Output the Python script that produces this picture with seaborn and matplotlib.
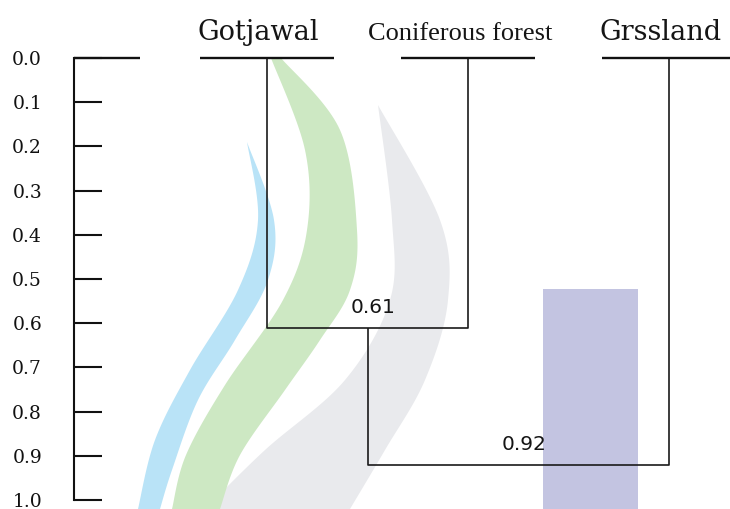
import matplotlib
matplotlib.use("Agg")
import matplotlib.pyplot as plt
import numpy as np
import pandas as pd
import seaborn as sns

# Leaves of the dendrogram (left to right) and the linkage heights
leaves = ["Gotjawal", "Coniferous forest", "Grssland"]
# each merge: (left member, right member, dissimilarity); members >= len(leaves) are earlier clusters
merges = [(0, 1, 0.61), (3, 2, 0.92)]
merge_labels = ["0.61", "0.92"]
y_ticks = [0.0, 0.1, 0.2, 0.3, 0.4, 0.5, 0.6, 0.7, 0.8, 0.9, 1.0]
y_tick_labels = ["0.0", "0.1", "0.2", "0.3", "0.4", "0.5", "0.6", "0.7", "0.8", "0.9", "1.0"]

sns.set_theme(style="white")
plt.rcParams["font.family"] = ["DejaVu Serif", "DejaVu Sans"]

W, H = 730, 509


def smooth(points, n=24):
    """Catmull-Rom curve through a list of (x, y) points."""
    p = np.asarray(points, dtype=float)
    p = np.vstack([p[0], p, p[-1]])
    out = []
    t = np.linspace(0, 1, n, endpoint=False)[:, None]
    for i in range(1, len(p) - 2):
        p0, p1, p2, p3 = p[i - 1], p[i], p[i + 1], p[i + 2]
        out.append(0.5 * ((2 * p1) + (-p0 + p2) * t + (2 * p0 - 5 * p1 + 4 * p2 - p3) * t ** 2
                          + (-p0 + 3 * p1 - 3 * p2 + p3) * t ** 3))
    out.append(p[-2][None, :])
    return np.vstack(out)


def draw_backdrop(fig):
    """Faint publisher logo sitting behind the tree (figure pixel space)."""
    bg = fig.add_axes([0, 0, 1, 1], zorder=-5)
    bg.set_xlim(0, W)
    bg.set_ylim(H, 0)
    bg.axis("off")
    bands = {
        "#e9eaed": ([(378, 105), (392, 220), (390, 300), (345, 380), (265, 450), (205, 509)],
                    [(378, 105), (440, 220), (448, 300), (425, 380), (385, 450), (350, 509)]),
        "#b9e3f7": ([(247, 142), (258, 220), (238, 290), (190, 370), (155, 440), (138, 509)],
                    [(247, 142), (274, 220), (268, 280), (235, 340), (198, 400), (172, 470), (160, 509)]),
        "#cde8c3": ([(271, 58), (305, 150), (307, 230), (283, 300), (225, 385), (186, 455), (172, 509)],
                    [(281, 58), (340, 130), (357, 230), (350, 290), (320, 340), (285, 390), (240, 455), (220, 509)]),
    }
    for colour, (left, right) in bands.items():
        l = smooth(left)
        r = smooth(right)
        poly = np.vstack([l, r[::-1]])
        bg.fill(poly[:, 0], poly[:, 1], color=colour, linewidth=0)
    bg.fill([543, 638, 638, 543], [289, 289, H, H], color="#c3c4e1", linewidth=0)
    return bg


# node positions: leaves sit at integer slots, clusters at the middle of their members
node_x = {i: float(i) for i in range(len(leaves))}
node_h = {i: 0.0 for i in range(len(leaves))}
rows = []
for k, (a, b, h) in enumerate(merges):
    nid = len(leaves) + k
    pts = [(node_x[a], node_h[a]), (node_x[a], h), (node_x[b], h), (node_x[b], node_h[b])]
    for order, (px, py) in enumerate(pts):
        rows.append({"link": k, "order": order, "x": px, "height": py})
    node_x[nid] = (node_x[a] + node_x[b]) / 2
    node_h[nid] = h
links = pd.DataFrame(rows)

half_bar = 0.333
bar_rows = []
for i in range(len(leaves)):
    bar_rows.append({"leaf": i, "x": i - half_bar, "height": 0.0})
    bar_rows.append({"leaf": i, "x": i + half_bar, "height": 0.0})
bars = pd.DataFrame(bar_rows)

fig = plt.figure(figsize=(W / 100, H / 100), dpi=100)
fig.patch.set_facecolor("white")
draw_backdrop(fig)

ax = fig.add_axes([74 / W, 9 / H, 656 / W, 442 / H])
ax.set_facecolor("none")

sns.lineplot(data=links, x="x", y="height", units="link", estimator=None, sort=False,
             color="#1a1a1a", linewidth=1.2, ax=ax, legend=False)
sns.lineplot(data=bars, x="x", y="height", units="leaf", estimator=None, sort=False,
             color="#111111", linewidth=1.7, ax=ax, legend=False)
for line in ax.lines:
    line.set_clip_on(False)
    line.set_solid_capstyle("butt")

# short top rule leaving the axis at 0.0
ax.axhline(0.0, xmin=0, xmax=66 / 656, color="#111111", linewidth=1.7, clip_on=False,
           solid_capstyle="butt")

ax.set_xlim(-0.960, 2.303)
ax.set_ylim(1.0, 0.0)
ax.set_yticks(y_ticks)
ax.set_yticklabels(y_tick_labels, fontsize=13.5, family="DejaVu Serif", color="#111111")
ax.set_xticks([])
ax.set_xlabel("")
ax.set_ylabel("")
ax.tick_params(axis="y", direction="in", length=20, width=1.5, pad=23, colors="#111111",
               left=True, labelcolor="#111111")
for side in ["top", "right", "bottom"]:
    ax.spines[side].set_visible(False)
ax.spines["left"].set_linewidth(1.5)
ax.spines["left"].set_color("#111111")

# leaf names above the leaf rules
leaf_fonts = {"Gotjawal": ("DejaVu Serif", 19.5), "Coniferous forest": ("Liberation Serif", 19),
              "Grssland": ("DejaVu Serif", 19.5)}
for i, name in enumerate(leaves):
    fam, size = leaf_fonts[name]
    ax.annotate(name, xy=(i, 0.0), xytext=(-6, 13), textcoords="offset points",
                ha="center", va="baseline", fontsize=size, family=fam, color="#151515",
                annotation_clip=False)

# dissimilarity labels above each merge
for k, (a, b, h) in enumerate(merges):
    mid = (links[(links.link == k) & (links.order == 1)].x.iloc[0] +
           links[(links.link == k) & (links.order == 2)].x.iloc[0]) / 2
    ax.annotate(merge_labels[k], xy=(mid, h), xytext=(4.3, 10.8), textcoords="offset points",
                ha="center", va="baseline", fontsize=14.5, family="DejaVu Sans",
                color="#151515")

fig.savefig("out.png", dpi=100, facecolor="white")
